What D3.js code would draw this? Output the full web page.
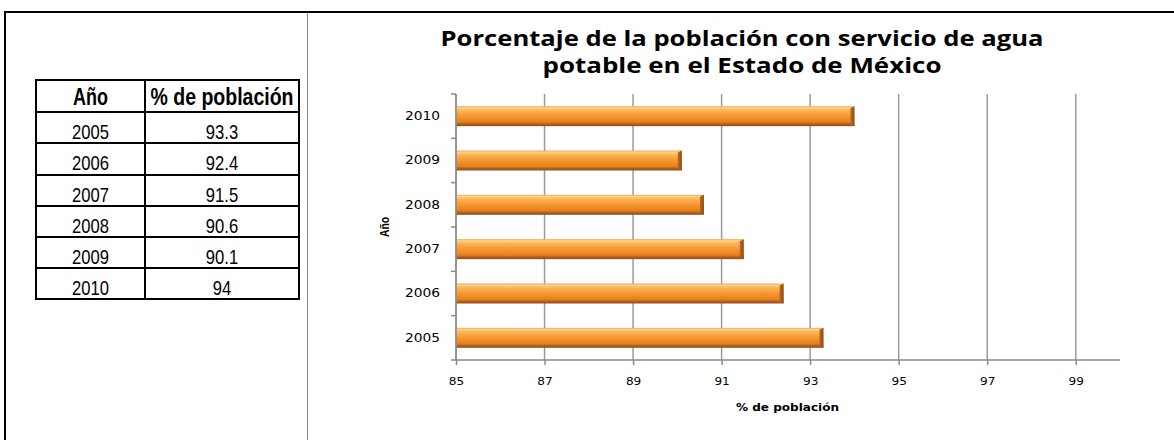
<!DOCTYPE html>
<html><head><meta charset="utf-8">
<script src="https://cdn.jsdelivr.net/npm/d3@7"></script>
<style>html,body{margin:0;padding:0;background:#fff;}svg{display:block;}</style>
</head><body>
<svg id="c" width="1174" height="440"></svg>
<script>
const years = ["2005","2006","2007","2008","2009","2010"];
const values = [93.3, 92.4, 91.5, 90.6, 90.1, 94];
const valueLabels = ["93.3","92.4","91.5","90.6","90.1","94"];
const tableHeaders = ["Año", "% de población"];
const xTicks = [85, 87, 89, 91, 93, 95, 97, 99];
const titleLines = ["Porcentaje de la población con servicio de agua", "potable en el Estado de México"];
const xTitle = "% de población";
const yTitle = "Año";

const svg = d3.select("#c");

// stretch/condense text horizontally by a factor
function stretch(sel, f){
  sel.each(function(){ const l=this.getComputedTextLength(); if(l>0){ d3.select(this).attr("textLength", l*f).attr("lengthAdjust","spacingAndGlyphs"); } });
}
function fitW(sel, w){ sel.attr("textLength", w).attr("lengthAdjust","spacingAndGlyphs"); }

// outer frame
svg.append("path").attr("d", "M5,440 V12 H1174").attr("fill","none").attr("stroke","#000").attr("stroke-width",2);
svg.append("line").attr("x1",307.5).attr("x2",307.5).attr("y1",13).attr("y2",440).attr("stroke","#8a8a8a").attr("stroke-width",1);

// ---- table ----
const sans = "'Liberation Sans',Arial,sans-serif";
const colX = [36, 145, 299];
const rowY = [80, 112, 143, 175, 206, 237, 268, 299];
const tg = svg.append("g");
const hdrW = [35, 143];
tableHeaders.forEach((h,i)=>{
  const t = tg.append("text").attr("x",(colX[i]+colX[i+1])/2).attr("y",105)
    .attr("text-anchor","middle").attr("font-family",sans).attr("font-weight","bold").attr("font-size",23).text(h);
  fitW(t, hdrW[i]);
});
years.forEach((y,i)=>{
  const yy = rowY[i+1] + 27;
  const a = tg.append("text").attr("x",(colX[0]+colX[1])/2).attr("y",yy).attr("text-anchor","middle")
    .attr("font-family",sans).attr("font-size",21).text(y);
  const b = tg.append("text").attr("x",(colX[1]+colX[2])/2).attr("y",yy).attr("text-anchor","middle")
    .attr("font-family",sans).attr("font-size",21).text(valueLabels[i]);
  stretch(a, 0.79); stretch(b, 0.79);
});
rowY.forEach(y=>tg.append("line").attr("x1",colX[0]-1).attr("x2",colX[2]+1).attr("y1",y).attr("y2",y).attr("stroke","#000").attr("stroke-width",2));
colX.forEach(x=>tg.append("line").attr("x1",x).attr("x2",x).attr("y1",rowY[0]-1).attr("y2",rowY[rowY.length-1]+1).attr("stroke","#000").attr("stroke-width",2));

// ---- chart ----
const x = d3.scaleLinear().domain([85,100]).range([456,1120]);
const y = d3.scaleBand().domain(years.slice().reverse()).range([94,360]).paddingInner(0.55).paddingOuter(0.275);

const defs = svg.append("defs");
const grad = defs.append("linearGradient").attr("id","barg").attr("x1",0).attr("y1",0).attr("x2",0).attr("y2",1);
[[0,"#f3a24a"],[0.08,"#fdd48c"],[0.2,"#fbb75a"],[0.5,"#f7962f"],[0.8,"#e4801f"],[0.88,"#b8621d"],[1,"#8f4d1a"]]
  .forEach(s=>grad.append("stop").attr("offset",s[0]).attr("stop-color",s[1]));
const gradR = defs.append("linearGradient").attr("id","bargr").attr("x1",0).attr("y1",0).attr("x2",1).attr("y2",0);
[[0,"#c06a22"],[1,"#8a4a18"]].forEach(s=>gradR.append("stop").attr("offset",s[0]).attr("stop-color",s[1]));

// gridlines
svg.append("g").selectAll("line").data(xTicks).join("line")
  .attr("x1",d=>x(d)).attr("x2",d=>x(d)).attr("y1",94).attr("y2",360)
  .attr("stroke","#9a9a9a").attr("stroke-width",1.5);

// bars
const bars = svg.append("g");
years.forEach((yr,i)=>{
  const x0 = x(85), x1 = x(values[i]), y0 = y(yr), h = y.bandwidth();
  bars.append("rect").attr("x",x0).attr("y",y0).attr("width",x1-x0).attr("height",h).attr("fill","url(#barg)");
  bars.append("path").attr("d",`M${x1-4},${y0+2} L${x1},${y0} L${x1},${y0+h} L${x1-4},${y0+h-3} Z`).attr("fill","url(#bargr)");
});

const tickFont = "'DejaVu Sans',Verdana,sans-serif";
// x axis
const xa = svg.append("g").attr("transform","translate(0,360)")
  .call(d3.axisBottom(x).tickValues(xTicks).tickSize(5).tickSizeOuter(0).tickPadding(14));
xa.select(".domain").attr("stroke","#8a8a8a").attr("stroke-width",1.5).attr("d","M456,0H1120");
xa.selectAll(".tick line").attr("stroke","#8a8a8a").attr("stroke-width",1.5);
xa.selectAll("text").attr("font-family",tickFont).attr("font-size",10.5).attr("fill","#000").attr("dy","0.71em").attr("y",18);
stretch(xa.selectAll("text"), 1.15);

// y axis
const ya = svg.append("g").attr("transform","translate(456,0)")
  .call(d3.axisLeft(y).tickSize(0).tickPadding(16));
ya.select(".domain").attr("stroke","#8a8a8a").attr("stroke-width",1.5).attr("d","M0,94V360");
ya.selectAll("text").attr("font-family",tickFont).attr("font-size",11.5).attr("fill","#000");
stretch(ya.selectAll("text"), 1.2);
const stepB = 266/years.length;
ya.selectAll("line.bt").data(d3.range(years.length+1)).join("line").attr("class","bt")
  .attr("x1",-5).attr("x2",0).attr("y1",i=>94+i*stepB).attr("y2",i=>94+i*stepB)
  .attr("stroke","#8a8a8a").attr("stroke-width",1.5);

// titles
const tt = svg.append("g");
titleLines.forEach((t,i)=>{
  tt.append("text").attr("x",742).attr("y",46+i*27).attr("text-anchor","middle")
    .attr("font-family","'Open Sans',sans-serif").attr("font-weight","bold").attr("font-size",21)
    .attr("textLength", i===0?603:399).attr("lengthAdjust","spacingAndGlyphs").text(t);
});
svg.append("text").attr("x",787.5).attr("y",411).attr("text-anchor","middle")
  .attr("font-family",tickFont).attr("font-weight","bold").attr("font-size",10.5)
  .attr("textLength",103).attr("lengthAdjust","spacingAndGlyphs").text(xTitle);
const yt = svg.append("text").attr("transform","translate(389,227) rotate(-90)").attr("text-anchor","middle")
  .attr("font-family",sans).attr("font-weight","bold").attr("font-size",13).text(yTitle);
stretch(yt, 0.8);
</script>
</body></html>
